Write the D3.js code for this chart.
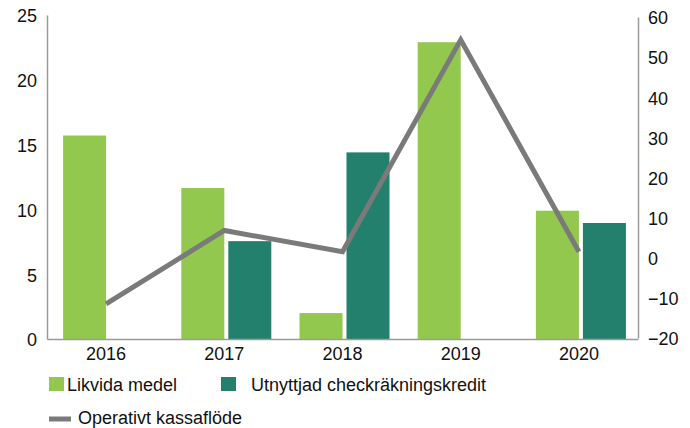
<!DOCTYPE html>
<html><head><meta charset="utf-8">
<script src="https://cdn.jsdelivr.net/npm/d3@7"></script>
<style>body{margin:0;background:#fff}svg text{font-family:"Liberation Sans",Arial,sans-serif;fill:#111}</style>
</head><body><svg id="c" width="690" height="428"></svg>
<script>
const years = ["2016","2017","2018","2019","2020"];
const likvida = [15.7, 11.65, 2.0, 22.9, 9.9];
const utnyttjad = [null, 7.55, 14.4, null, 8.95];
const kassaflode = [-11.5, 6.8, 1.5, 54.3, 1.5];
const leftTicks = [0,5,10,15,20,25];
const rightTicks = [-20,-10,0,10,20,30,40,50,60];
const seriesNames = ["Likvida medel","Utnyttjad checkräkningskredit","Operativt kassaflöde"];

const svg = d3.select("#c");
const L=47, R=638, T=15, B=339;
const FS=18;
const x = d3.scaleBand().domain(years).range([L,R]);
const yL = d3.scaleLinear().domain([0,25]).range([B,T]);
const yR = d3.scaleLinear().domain([-20,60]).range([B-1,T+2]);
const cLight="#92c84e", cDark="#23806c", cLine="#7a7a7a", cAxis="#9a9a9a";
const bw = 43, gap = 4;

svg.append("g").selectAll("rect").data(years.map((y,i)=>({y,v:likvida[i]}))).join("rect")
  .attr("x",d=>x(d.y)+x.bandwidth()/2-bw).attr("width",bw)
  .attr("y",d=>yL(d.v)).attr("height",d=>yL(0)-yL(d.v)).attr("fill",cLight);
svg.append("g").selectAll("rect").data(years.map((y,i)=>({y,v:utnyttjad[i]})).filter(d=>d.v!=null)).join("rect")
  .attr("x",d=>x(d.y)+x.bandwidth()/2+gap).attr("width",bw)
  .attr("y",d=>yL(d.v)).attr("height",d=>yL(0)-yL(d.v)).attr("fill",cDark);

svg.append("path").datum(kassaflode)
  .attr("d",d3.line().x((d,i)=>x(years[i])+x.bandwidth()/2).y(d=>yR(d)))
  .attr("fill","none").attr("stroke",cLine).attr("stroke-width",5);

// axes
const axL = svg.append("g").attr("transform",`translate(${L},0)`).call(d3.axisLeft(yL).tickValues(leftTicks).tickSize(0).tickPadding(10));
const axR = svg.append("g").attr("transform",`translate(${R},0)`).call(d3.axisRight(yR).tickValues(rightTicks).tickSize(0).tickPadding(10));
const axB = svg.append("g").attr("transform",`translate(0,${B})`).call(d3.axisBottom(x).tickSize(0).tickPadding(0));
[axL,axR,axB].forEach(a=>{a.select(".domain").attr("stroke",cAxis).attr("stroke-width",1.5);
  a.selectAll("text").attr("font-size",FS).attr("fill","#111");});
axL.selectAll("text").attr("dy","0.38em");
axR.selectAll("text").attr("dy","0.38em");
axB.selectAll("text").attr("y",21).attr("dy",0);

// legend
const lg = svg.append("g");
lg.append("rect").attr("x",49).attr("y",377).attr("width",15).attr("height",14).attr("fill",cLight);
lg.append("text").attr("x",67).attr("y",391).attr("font-size",FS).text(seriesNames[0]);
lg.append("rect").attr("x",221).attr("y",377).attr("width",15).attr("height",14).attr("fill",cDark);
lg.append("text").attr("x",251).attr("y",391).attr("font-size",FS).text(seriesNames[1]);
lg.append("line").attr("x1",49).attr("x2",71).attr("y1",419).attr("y2",419).attr("stroke",cLine).attr("stroke-width",5);
lg.append("text").attr("x",78).attr("y",424).attr("font-size",FS).text(seriesNames[2]);
</script></body></html>
